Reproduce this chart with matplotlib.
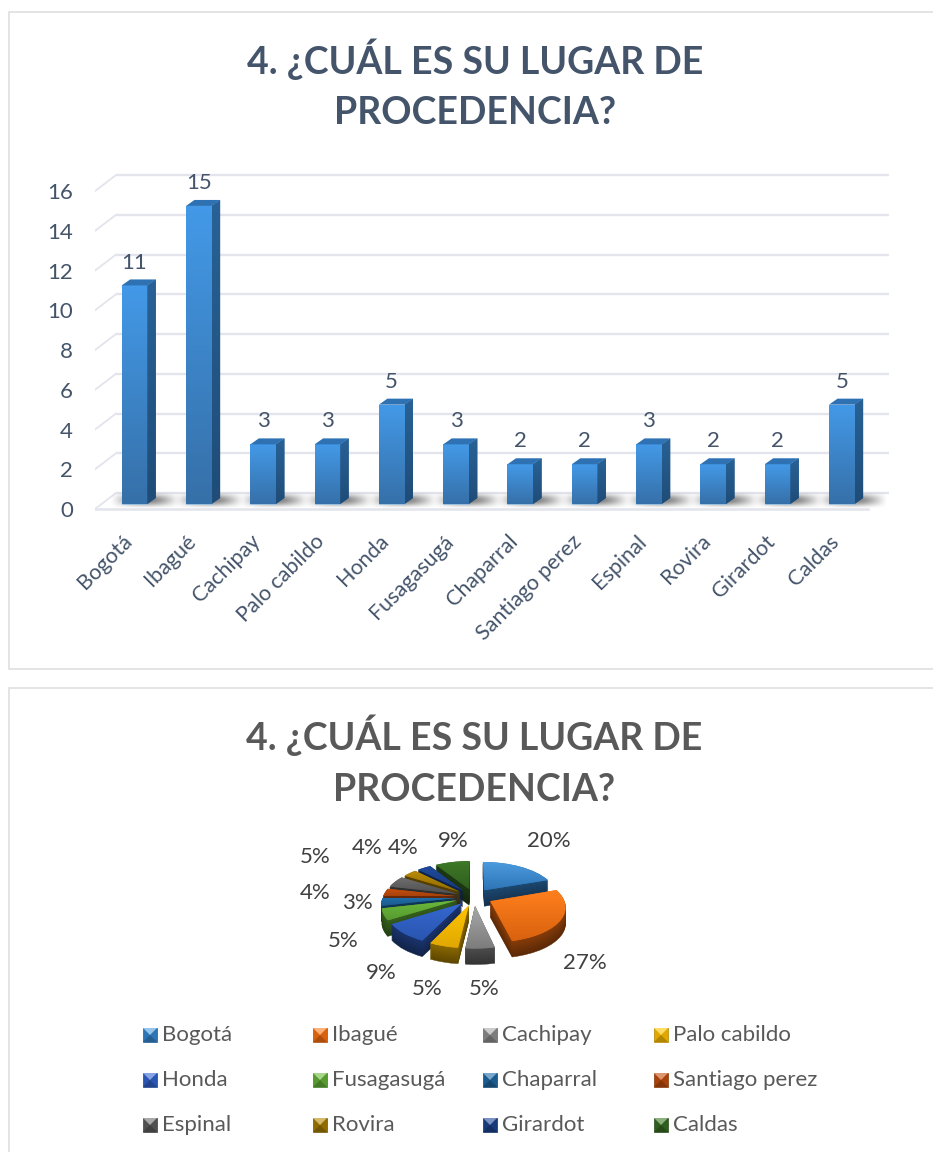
import numpy as np
import matplotlib
matplotlib.use('Agg')
import matplotlib.pyplot as plt
from matplotlib.colors import to_rgb, LinearSegmentedColormap
from matplotlib.patches import Polygon, PathPatch, Rectangle
from matplotlib.path import Path
from matplotlib.transforms import ScaledTranslation

plt.rcParams['font.family'] = ['Lato', 'DejaVu Sans']

# data
places = ['Bogotá', 'Ibagué', 'Cachipay', 'Palo cabildo', 'Honda', 'Fusagasugá',
          'Chaparral', 'Santiago perez', 'Espinal', 'Rovira', 'Girardot', 'Caldas']
counts = [11, 15, 3, 3, 5, 3, 2, 2, 3, 2, 2, 5]
percent_labels = ['20%', '27%', '5%', '5%', '9%', '5%', '3%', '4%', '5%', '4%', '4%', '9%']
y_ticks = [0, 2, 4, 6, 8, 10, 12, 14, 16]
title_lines = ['4. ¿CUÁL ES SU LUGAR DE', 'PROCEDENCIA?']

# pie slice colours (light top, dark bottom of the face)
slice_light = ['#4C9CE0', '#FF7F1C', '#A8A8A8', '#FFC400', '#3568D0', '#6DBB3C',
               '#1F6DA8', '#C8500F', '#6E6E6E', '#B88A08', '#1F4A9A', '#3F7A28']
slice_dark = ['#2E75B6', '#D9620F', '#7C7C7C', '#E0A800', '#2A55B0', '#569A30',
              '#1A5A8C', '#A8420A', '#505050', '#8F6B00', '#173A7A', '#2F5E1E']

W, H = 933, 1152
DARK_TXT = '#44546A'
GREY_TXT = '#595959'
GRID = '#E3E4EC'


def px_axes(fig, left, right, top, bottom, **kw):
    # axes placed with pixel edges, y pixels counted from the top
    return fig.add_axes([left / W, 1 - bottom / H, (right - left) / W, (bottom - top) / H], **kw)


def grad_fill(ax, patch, top, bottom, extent, zorder):
    cmap = LinearSegmentedColormap.from_list('g', [top, bottom])
    im = ax.imshow(np.linspace(0, 1, 64).reshape(-1, 1), cmap=cmap, extent=extent,
                   aspect='auto', zorder=zorder, origin='upper', vmin=0, vmax=1)
    im.set_clip_path(patch)
    return im


fig = plt.figure(figsize=(W / 100, H / 100), dpi=100, facecolor='white')

# ---------- page axes in pixels: frames, titles, legend ----------
page = fig.add_axes([0, 0, 1, 1], zorder=0)
page.set_xlim(0, W)
page.set_ylim(H, 0)
page.axis('off')
page.add_patch(Rectangle((8.5, 11.5), W, 657, fc='white', ec='#DFDFDF', lw=1.2))
page.add_patch(Rectangle((8.5, 688), W, H, fc='white', ec='#DFDFDF', lw=1.2))
for line, y in zip(title_lines, [59, 113]):
    page.text(475, y, line, ha='center', va='center', fontsize=27, fontweight='bold', color=DARK_TXT)
for line, y in zip(title_lines, [735, 790]):
    page.text(474, y, line, ha='center', va='center', fontsize=27, fontweight='bold', color=GREY_TXT)

# ---------- bar chart ----------
PX_X0, PX_DX = 134.5, 64.3     # first bar centre, bar spacing
PX_Y0, PX_DY = 504.0, 19.87    # zero line, pixels per unit
half = 12.8 / PX_DX
depth_x, depth_y = 8.5 / PX_DX, 6.0 / PX_DY
L, R, T, B = 95, 889, 170, 512
xlim = ((L - PX_X0) / PX_DX, (R - PX_X0) / PX_DX)
ylim = ((PX_Y0 - B) / PX_DY, (PX_Y0 - T) / PX_DY)

ax = px_axes(fig, L, R, T, B, zorder=1)
ax.patch.set_visible(False)
for s in ax.spines.values():
    s.set_visible(False)
ax.set_xticks([])
ax.set_yticks([])

# back wall lines and the slanted side wall
back_y, front_y = 11 / PX_DY, -5 / PX_DY
back_x = (116 - PX_X0) / PX_DX
front_r = (868 - PX_X0) / PX_DX
for v in y_ticks:
    ax.plot([back_x, xlim[1]], [v + back_y] * 2, color=GRID, lw=1.7, zorder=1, solid_capstyle='butt')
    ax.plot([xlim[0], back_x], [v + front_y, v + back_y], color=GRID, lw=1.3, zorder=1)
ax.plot([xlim[0], front_r], [front_y, front_y], color=GRID, lw=1.8, zorder=1)

xs = np.arange(len(counts))
bars = ax.bar(xs, counts, width=2 * half, color='#3A80C4', edgecolor='#A9CBEA', linewidth=0.5, zorder=4)

for x, v, bar in zip(xs, counts, bars):
    # soft shadow on the floor
    sx = np.hanning(40)[None, :] ** 0.6
    sy = np.hanning(16)[:, None] ** 0.8
    shadow = np.zeros((16, 40, 4))
    shadow[..., :3] = 0.33
    shadow[..., 3] = 0.75 * sy * sx
    ax.imshow(shadow, extent=(x - half - 0.18, x + half + 0.52, -0.25, 0.62), aspect='auto',
              zorder=2, interpolation='bilinear')
    # face gradient, side and top of the box
    grad_fill(ax, bar, '#4399E7', '#3670A9', (x - half, x + half, 0, v), 5)
    side = Polygon([(x + half, 0), (x + half + depth_x, depth_y), (x + half + depth_x, v + depth_y), (x + half, v)],
                   fc='#24598B', ec='none', zorder=4)
    ax.add_patch(side)
    grad_fill(ax, side, '#286296', '#1F4C78', (x + half, x + half + depth_x, 0, v + depth_y), 5)
    ax.add_patch(Polygon([(x - half, v), (x - half + depth_x, v + depth_y), (x + half + depth_x, v + depth_y), (x + half, v)],
                         fc='#2E72B3', ec='none', zorder=5))
    ax.annotate(str(v), (x, v), xytext=(0, 16.5), textcoords='offset points', ha='center', va='center',
                fontsize=16, color=DARK_TXT, zorder=6)

ax.set_xlim(xlim)
ax.set_ylim(ylim)

# the tick labels sit on the front plane, 5 px lower than the bars
tk = px_axes(fig, L, R, T + 5, B + 5, zorder=2)
tk.patch.set_visible(False)
for s in tk.spines.values():
    s.set_visible(False)
tk.set_xlim(xlim)
tk.set_ylim(ylim)
tk.set_yticks(y_ticks)
tk.set_yticklabels([str(v) for v in y_ticks])
tk.set_xticks(xs)
tk.set_xticklabels(places, rotation=45, ha='right', rotation_mode='anchor')
tk.tick_params(axis='y', length=0, pad=16, labelsize=16, labelcolor=DARK_TXT)
tk.tick_params(axis='x', length=0, pad=8, labelsize=15.5, labelcolor=DARK_TXT)
shift = ScaledTranslation(-13 / 100, -3 / 100, fig.dpi_scale_trans)
for lab in tk.get_xticklabels():
    lab.set_transform(lab.get_transform() + shift)

# ---------- 3D looking pie ----------
CX, CY, RX, RY = 474, 897, 73, 34
PERSP = 0.14
pie_ax = px_axes(fig, CX - 2.4 * RX, CX + 2.4 * RX, CY - 2.6 * RY, CY + 2.6 * RY, zorder=3)
wedges, _ = pie_ax.pie(counts, explode=[0.25] * len(counts), startangle=90, counterclock=False,
                       colors=slice_light, radius=1)
faces = []
for w in wedges:
    p = w.get_patch_transform().transform_path(w.get_path())
    v = p.vertices
    k = 1 / (1 + PERSP * v[:, 1])
    faces.append((np.column_stack([v[:, 0] * k, v[:, 1] * k]), p.codes))
    w.remove()

depth_px = 16
for d in range(depth_px, 0, -1):
    shade = 0.42 + 0.2 * (depth_px - d) / depth_px
    for (verts, codes), col in zip(faces, slice_dark):
        c = np.array(to_rgb(col)) * shade
        shifted = verts - [0, d / RY]
        pie_ax.add_patch(PathPatch(Path(shifted, codes), fc=c, ec=c, lw=0.3, zorder=2))

for (verts, codes), hi, lo in zip(faces, slice_light, slice_dark):
    face = PathPatch(Path(verts, codes), fc=lo, ec='none', zorder=3)
    pie_ax.add_patch(face)
    grad_fill(pie_ax, face, hi, lo, (verts[:, 0].min(), verts[:, 0].max(), verts[:, 1].min(), verts[:, 1].max()), 4)

pie_ax.set_aspect('auto')
pie_ax.set_xlim(-2.4, 2.4)
pie_ax.set_ylim(-2.6, 2.6)
pie_ax.patch.set_visible(False)

# percent labels, placed by hand around the pie as in the picture
label_pos = [(549, 841), (585, 963), (484, 989), (427, 989), (381, 973), (343, 941),
             (357, 903), (315, 893), (315, 857), (367, 848), (403, 848), (453, 841)]
for txt, (x, y) in zip(percent_labels, label_pos):
    page.text(x, y, txt, ha='center', va='center', fontsize=16, color='#404040')

# ---------- legend ----------
col_x = [143, 313, 483, 654]
row_y = [1035, 1080, 1125]
s = 14
for i, name in enumerate(places):
    x = col_x[i % 4]
    y = row_y[i // 4]
    lo = np.array(to_rgb(slice_dark[i]))
    hi = np.array(to_rgb(slice_light[i]))
    top = np.clip(hi * 0.6 + 0.4, 0, 1)
    x0, x1, y0, y1 = x, x + s, y - s / 2, y + s / 2
    mid = (x + s / 2, y)
    page.add_patch(Polygon([(x0, y0), (x1, y0), (x1, y1), (x0, y1)], fc=lo, ec=lo * 0.8, lw=0.5))
    page.add_patch(Polygon([(x0, y0), (x1, y0), mid], fc=top, ec='none'))
    page.add_patch(Polygon([(x0, y1), (x1, y1), mid], fc=lo * 0.8, ec='none'))
    page.text(x + 19, y, name, ha='left', va='center', fontsize=16, color=GREY_TXT)

fig.savefig('out.png', dpi=100)
